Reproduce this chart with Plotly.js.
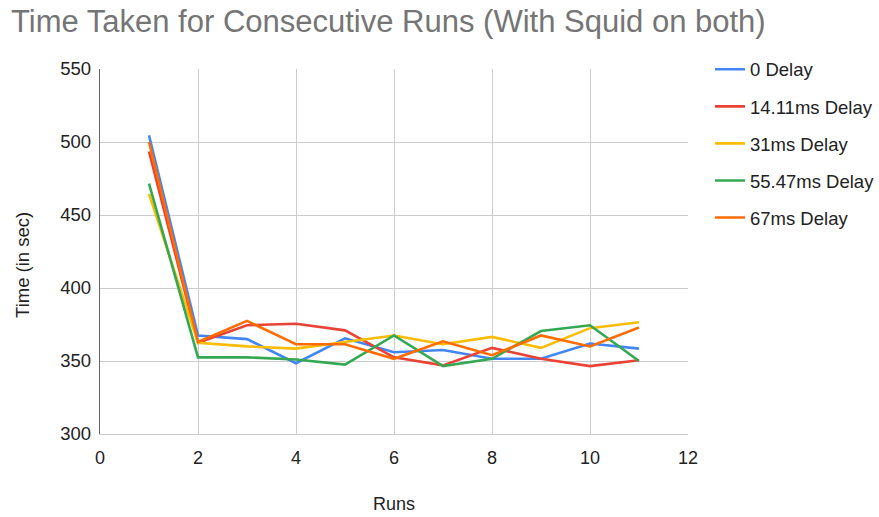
<!DOCTYPE html>
<html>
<head>
<meta charset="utf-8">
<script src="https://cdn.plot.ly/plotly-3.0.1.min.js"></script>
<style>html,body{margin:0;padding:0;background:#fff;}#chart{width:879px;height:517px;}</style>
</head>
<body>
<div id="chart"></div>
<script>
const runs = [1, 2, 3, 4, 5, 6, 7, 8, 9, 10, 11];
const seriesNames = ["0 Delay", "14.11ms Delay", "31ms Delay", "55.47ms Delay", "67ms Delay"];
const delay0 = [504.5, 367.5, 365, 348.5, 365.5, 356, 357.5, 351.5, 351.5, 362, 358.5];
const delay14 = [493.5, 362.5, 374.5, 375.5, 371, 352.5, 347, 359, 351.5, 346.5, 350.5];
const delay31 = [464.5, 362.5, 360, 358.5, 363, 367.5, 361.5, 366.5, 359, 372.5, 376.5];
const delay55 = [471.5, 352.5, 352.5, 351, 347.5, 367.5, 346.5, 351.5, 370.5, 374.5, 350];
const delay67 = [500, 363, 377.5, 361.5, 361.5, 351.5, 363.5, 354, 367.5, 360, 373];
const colors = ["#4285F4", "#EA4335", "#FBBC04", "#34A853", "#FF6D01"];
const values = [delay0, delay14, delay31, delay55, delay67];
const chartTitle = "Time Taken for Consecutive Runs (With Squid on both)";
const xTitle = "Runs";
const yTitle = "Time (in sec)";

const FONT = "Liberation Sans, Arial, sans-serif";

const traces = values.map((v, i) => ({
  x: runs, y: v, type: "scatter", mode: "lines", name: seriesNames[i],
  legendgroup: "g" + i,
  line: {color: colors[i], width: 2.6}
}));

const layout = {
  width: 879, height: 517,
  margin: {l: 100, r: 191, t: 69, b: 83, autoexpand: false},
  paper_bgcolor: "#fff", plot_bgcolor: "#fff",
  font: {family: FONT, color: "#222", size: 18},
  title: {text: chartTitle,
    x: 0.0125, xanchor: "left", y: 0.959, yanchor: "middle",
    font: {size: 31, color: "#757575", family: FONT}},
  xaxis: {range: [0, 12], dtick: 2, tick0: 0, showgrid: true, gridcolor: "#cccccc",
    zeroline: false, showline: true, linecolor: "#cccccc", ticks: "", ticklen: 0,
    ticklabelstandoff: 7, automargin: false,
    tickfont: {size: 18, color: "#222"}},
  yaxis: {range: [300, 550], dtick: 50, showgrid: true, gridcolor: "#cccccc",
    zeroline: false, showline: true, linecolor: "#666666", linewidth: 1.3, ticks: "",
    ticklabelstandoff: 4, automargin: false,
    tickfont: {size: 18.5, color: "#222"}},
  annotations: [
    {text: xTitle, xref: "paper", yref: "paper", x: 0.5, y: -0.192,
     xanchor: "center", yanchor: "middle", showarrow: false,
     font: {size: 18, color: "#222", family: FONT}},
    {text: yTitle, xref: "paper", yref: "paper", x: -0.1327, y: 0.463,
     xanchor: "center", yanchor: "middle", showarrow: false, textangle: -90,
     font: {size: 18.5, color: "#222", family: FONT}}
  ],
  legend: {x: 1.0374, xanchor: "left", y: 1.05, yanchor: "top", tracegroupgap: 10,
    font: {size: 18.5, color: "#222", family: FONT}},
  showlegend: true
};

Plotly.newPlot("chart", traces, layout, {displayModeBar: false, staticPlot: true});
</script>
</body>
</html>
